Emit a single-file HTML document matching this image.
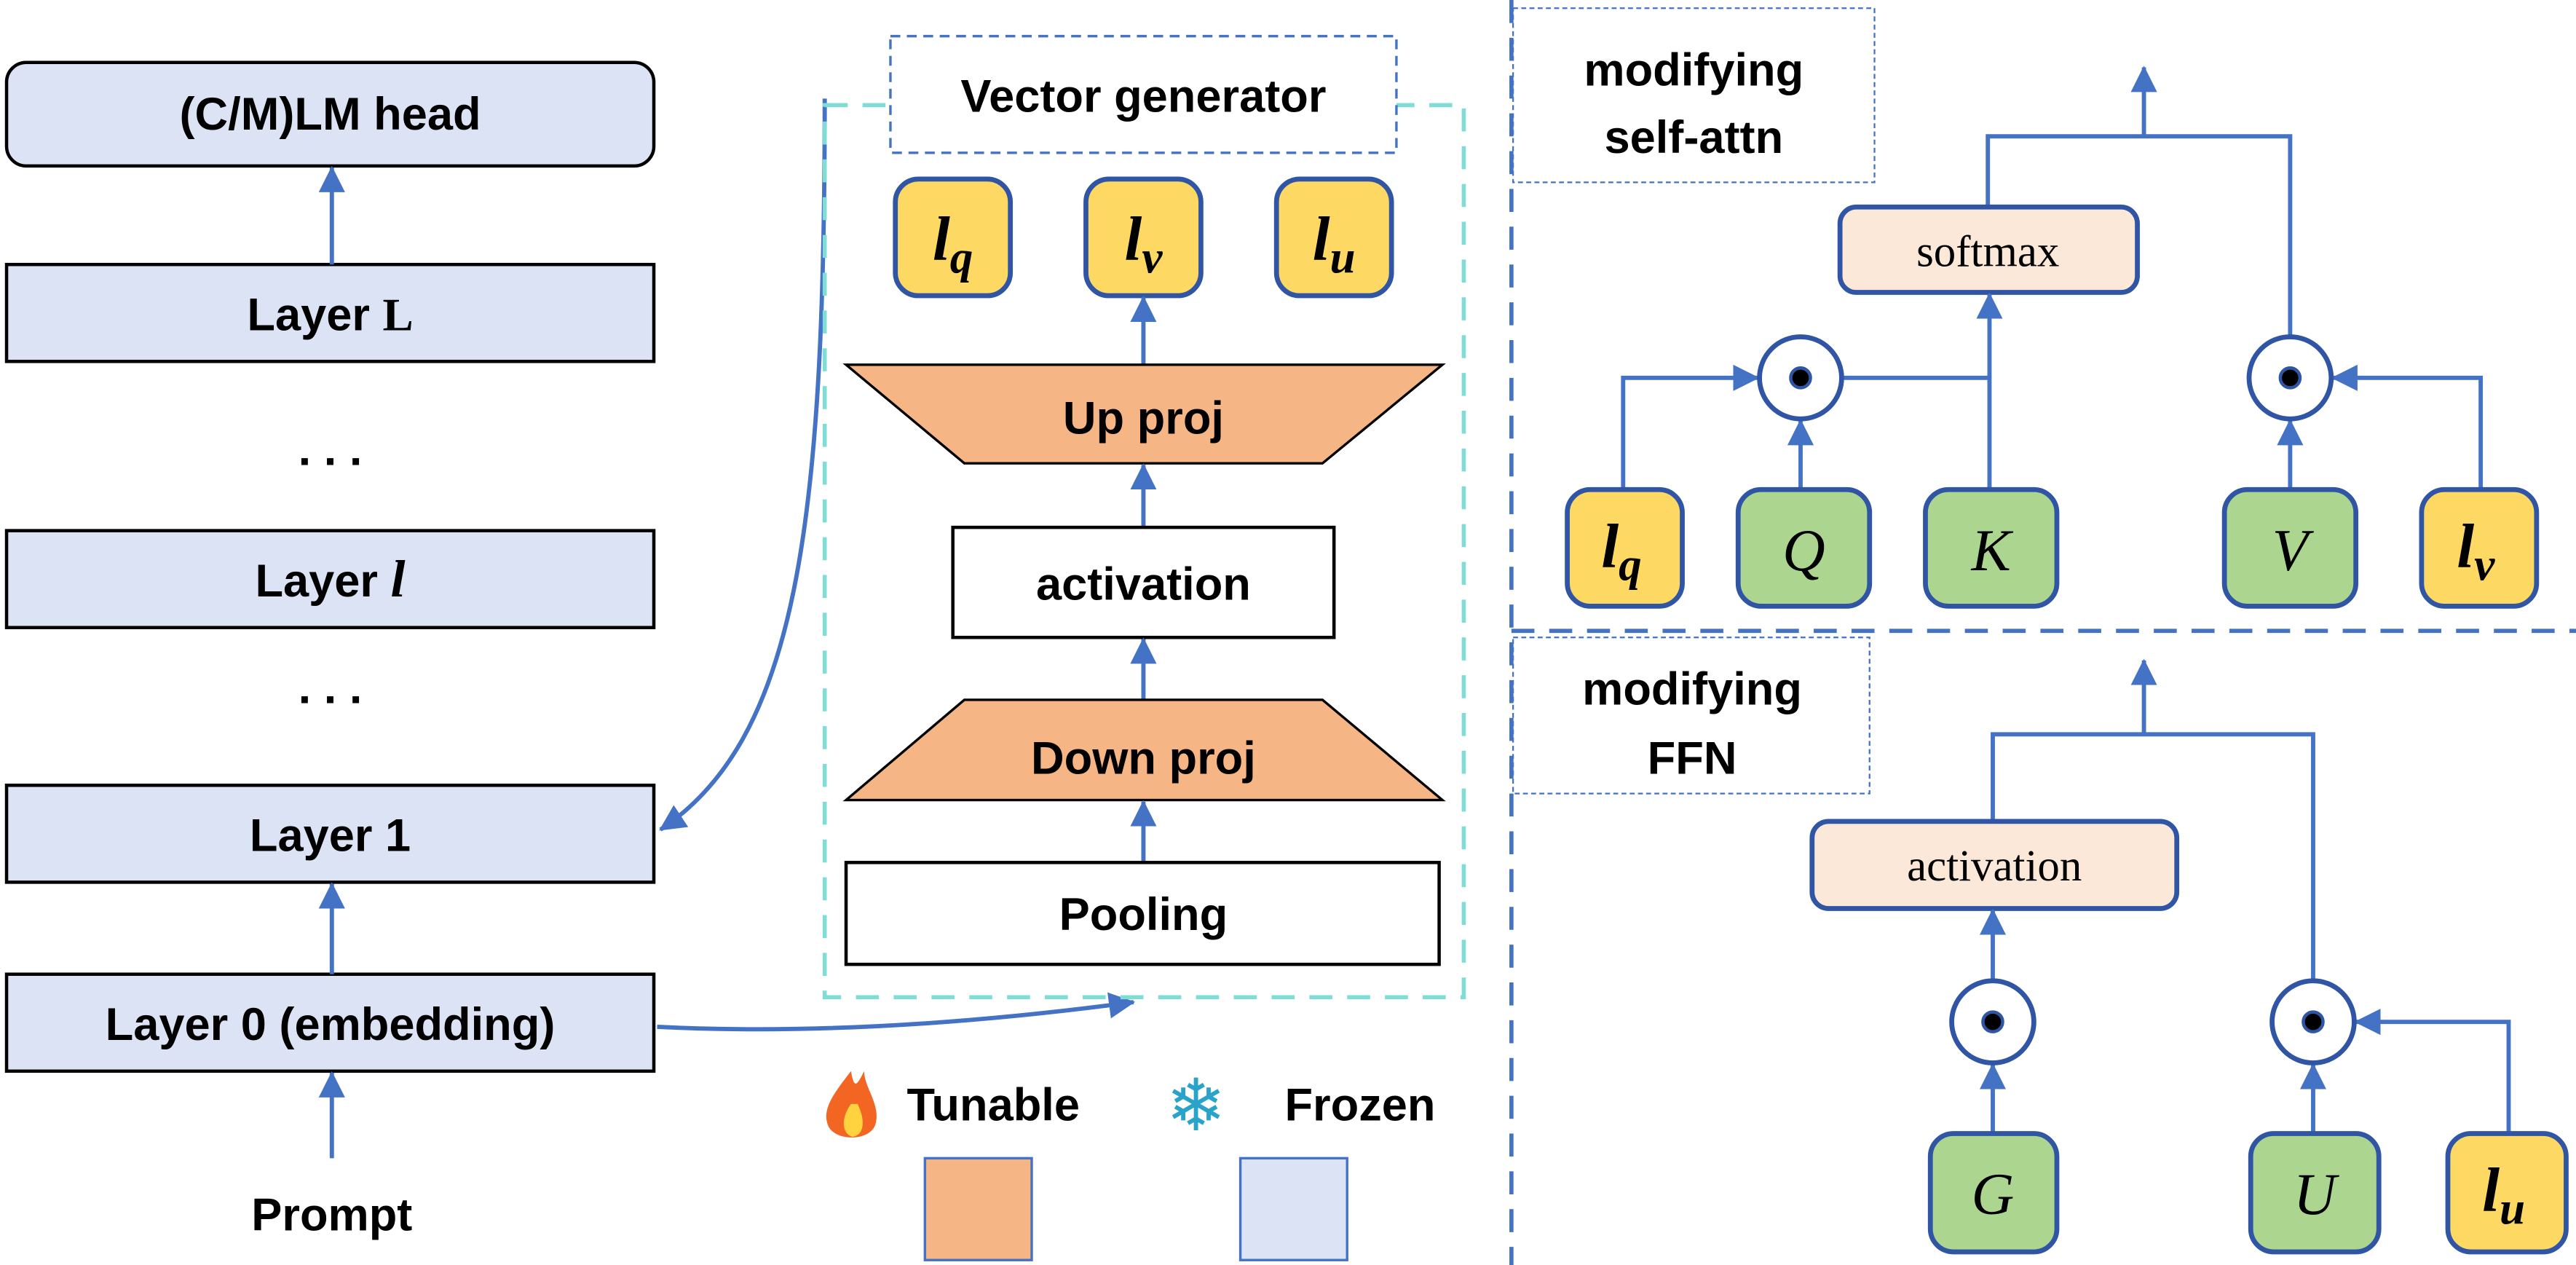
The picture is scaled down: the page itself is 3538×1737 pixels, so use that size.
<!DOCTYPE html>
<html><head><meta charset="utf-8"><style>
html,body{margin:0;padding:0;background:#fff;}
svg{display:block;}
.t{font-family:"Liberation Sans Narrow","Liberation Sans",sans-serif;font-weight:bold;fill:#000;}
.m{font-family:"Liberation Serif","DejaVu Serif",serif;font-style:italic;font-weight:bold;fill:#000;}
.s{font-family:"Liberation Serif",serif;fill:#000;}
.ln{stroke:#4472c4;stroke-width:2.6;fill:none;}
</style></head><body>
<svg width="3538" height="1737" viewBox="0 0 1568 770" preserveAspectRatio="none" xmlns="http://www.w3.org/2000/svg">
<defs>
<marker id="a" markerUnits="userSpaceOnUse" markerWidth="16" markerHeight="16" refX="15" refY="8" orient="auto">
<path d="M0,0 L16,8 L0,16 z" fill="#4472c4"/></marker>
</defs>
<!-- Left column -->
<rect x="4" y="38" width="394" height="63" rx="12" fill="#dce3f4" stroke="#000" stroke-width="2"/>
<text class="t" x="201" y="79" font-size="28" text-anchor="middle">(C/M)LM head</text>
<rect x="4" y="161" width="394" height="59" fill="#dce3f4" stroke="#000" stroke-width="2"/>
<text class="t" x="201" y="201" font-size="28" text-anchor="middle">Layer <tspan class="s" font-weight="bold">L</tspan></text>
<text class="t" x="201" y="283" font-size="28" text-anchor="middle">. . .</text>
<rect x="4" y="323" width="394" height="59" fill="#dce3f4" stroke="#000" stroke-width="2"/>
<text class="t" x="201" y="363" font-size="28" text-anchor="middle">Layer <tspan class="m" font-size="32">l</tspan></text>
<text class="t" x="201" y="428" font-size="28" text-anchor="middle">. . .</text>
<rect x="4" y="478" width="394" height="59" fill="#dce3f4" stroke="#000" stroke-width="2"/>
<text class="t" x="201" y="518" font-size="28" text-anchor="middle">Layer 1</text>
<rect x="4" y="593" width="394" height="59" fill="#dce3f4" stroke="#000" stroke-width="2"/>
<text class="t" x="201" y="633" font-size="28" text-anchor="middle">Layer 0 (embedding)</text>
<text class="t" x="202" y="749" font-size="28" text-anchor="middle">Prompt</text>
<line class="ln" x1="202" y1="161" x2="202" y2="102" marker-end="url(#a)"/>
<line class="ln" x1="202" y1="593" x2="202" y2="538" marker-end="url(#a)"/>
<line class="ln" x1="202" y1="705" x2="202" y2="653" marker-end="url(#a)"/>
<path class="ln" d="M502,60 C502,320 485,450 402,505" marker-end="url(#a)"/>
<path class="ln" d="M400,625 C500,630 600,622 690,610" marker-end="url(#a)"/>
<!-- Vector generator -->
<rect x="502" y="64" width="389" height="543" fill="none" stroke="#80ddd6" stroke-width="2.5" stroke-dasharray="14,9"/>
<rect x="542" y="22" width="308" height="71" fill="#fff" stroke="#4472c4" stroke-width="1.5" stroke-dasharray="6,4"/>
<text class="t" x="696" y="68" font-size="28" text-anchor="middle">Vector generator</text>
<rect x="545" y="109" width="70" height="71" rx="14" fill="#fdd862" stroke="#2f55a4" stroke-width="3"/>
<text class="m" x="580" y="158" font-size="38" text-anchor="middle">l<tspan font-size="28" dy="8">q</tspan></text>
<rect x="661" y="109" width="70" height="71" rx="14" fill="#fdd862" stroke="#2f55a4" stroke-width="3"/>
<text class="m" x="696" y="158" font-size="38" text-anchor="middle">l<tspan font-size="28" dy="8">v</tspan></text>
<rect x="777" y="109" width="70" height="71" rx="14" fill="#fdd862" stroke="#2f55a4" stroke-width="3"/>
<text class="m" x="812" y="158" font-size="38" text-anchor="middle">l<tspan font-size="28" dy="8">u</tspan></text>
<line class="ln" x1="696" y1="222" x2="696" y2="181" marker-end="url(#a)"/>
<polygon points="515,222 878,222 805,282 587,282" fill="#f5b584" stroke="#000" stroke-width="1.5"/>
<text class="t" x="696" y="264" font-size="28" text-anchor="middle">Up proj</text>
<line class="ln" x1="696" y1="321" x2="696" y2="283" marker-end="url(#a)"/>
<rect x="580" y="321" width="232" height="67" fill="#fff" stroke="#000" stroke-width="2"/>
<text class="t" x="696" y="365" font-size="28" text-anchor="middle">activation</text>
<line class="ln" x1="696" y1="426" x2="696" y2="389" marker-end="url(#a)"/>
<polygon points="587,426 805,426 878,487 515,487" fill="#f5b584" stroke="#000" stroke-width="1.5"/>
<text class="t" x="696" y="471" font-size="28" text-anchor="middle">Down proj</text>
<line class="ln" x1="696" y1="525" x2="696" y2="488" marker-end="url(#a)"/>
<rect x="515" y="525" width="361" height="62" fill="#fff" stroke="#000" stroke-width="2"/>
<text class="t" x="696" y="566" font-size="28" text-anchor="middle">Pooling</text>
<!-- Legend -->
<path d="M518,652 C508,665 500,675 504,685 C508,695 530,695 533,684 C536,672 526,662 526,652 C522,660 520,664 518,652 z" fill="#f26522"/>
<path d="M518,672 C512,680 512,690 519,692 C526,691 527,682 522,672 z" fill="#ffd23f"/>
<text class="t" x="552" y="682" font-size="28">Tunable</text>
<text x="728" y="688" font-size="44" text-anchor="middle" fill="#29a3c9" font-family="DejaVu Sans,sans-serif">❄</text>
<text class="t" x="782" y="682" font-size="28">Frozen</text>
<rect x="563" y="705" width="65" height="62" fill="#f5b584" stroke="#4472c4" stroke-width="1.5"/>
<rect x="755" y="705" width="65" height="62" fill="#dce3f4" stroke="#4472c4" stroke-width="1.5"/>
<!-- Right dividers -->
<line x1="920" y1="0" x2="920" y2="770" stroke="#4472c4" stroke-width="2.5" stroke-dasharray="14,9"/>
<line x1="920" y1="384" x2="1568" y2="384" stroke="#4472c4" stroke-width="2.5" stroke-dasharray="14,9"/>
<!-- self-attn -->
<rect x="921" y="5" width="220" height="106" fill="none" stroke="#4472c4" stroke-width="1" stroke-dasharray="3,2"/>
<text class="t" x="1031" y="52" font-size="28" text-anchor="middle">modifying</text>
<text class="t" x="1031" y="93" font-size="28" text-anchor="middle">self-attn</text>
<line class="ln" x1="1305" y1="83" x2="1305" y2="41" marker-end="url(#a)"/>
<polyline class="ln" points="1210,126 1210,83 1394,83 1394,205"/>
<rect x="1120" y="126" width="181" height="52" rx="10" fill="#fce8d8" stroke="#2f55a4" stroke-width="3"/>
<text class="s" x="1210" y="162" font-size="27" text-anchor="middle">softmax</text>
<polyline class="ln" points="988,298 988,230 1070,230" marker-end="url(#a)"/>
<line class="ln" x1="1096" y1="298" x2="1096" y2="256" marker-end="url(#a)"/>
<line class="ln" x1="1121" y1="230" x2="1211" y2="230"/>
<line class="ln" x1="1211" y1="298" x2="1211" y2="179" marker-end="url(#a)"/>
<line class="ln" x1="1394" y1="298" x2="1394" y2="256" marker-end="url(#a)"/>
<polyline class="ln" points="1510,298 1510,230 1420,230" marker-end="url(#a)"/>
<circle cx="1096" cy="230" r="25" fill="#fff" stroke="#2f55a4" stroke-width="3"/><circle cx="1096" cy="230" r="6" fill="#000" stroke="#2f55a4" stroke-width="2"/>
<circle cx="1394" cy="230" r="25" fill="#fff" stroke="#2f55a4" stroke-width="3"/><circle cx="1394" cy="230" r="6" fill="#000" stroke="#2f55a4" stroke-width="2"/>
<rect x="954" y="298" width="70" height="71" rx="14" fill="#fdd862" stroke="#2f55a4" stroke-width="3"/>
<text class="m" x="987" y="345" font-size="38" text-anchor="middle">l<tspan font-size="28" dy="8">q</tspan></text>
<rect x="1058" y="298" width="80" height="71" rx="14" fill="#acd68f" stroke="#2f55a4" stroke-width="3"/>
<text class="s" font-style="italic" x="1098" y="347" font-size="36" text-anchor="middle">Q</text>
<rect x="1172" y="298" width="80" height="71" rx="14" fill="#acd68f" stroke="#2f55a4" stroke-width="3"/>
<text class="s" font-style="italic" x="1212" y="347" font-size="36" text-anchor="middle">K</text>
<rect x="1354" y="298" width="80" height="71" rx="14" fill="#acd68f" stroke="#2f55a4" stroke-width="3"/>
<text class="s" font-style="italic" x="1394" y="347" font-size="36" text-anchor="middle">V</text>
<rect x="1474" y="298" width="70" height="71" rx="14" fill="#fdd862" stroke="#2f55a4" stroke-width="3"/>
<text class="m" x="1507" y="345" font-size="38" text-anchor="middle">l<tspan font-size="28" dy="8">v</tspan></text>
<!-- FFN -->
<rect x="921" y="388" width="217" height="95" fill="none" stroke="#4472c4" stroke-width="1" stroke-dasharray="3,2"/>
<text class="t" x="1030" y="429" font-size="28" text-anchor="middle">modifying</text>
<text class="t" x="1030" y="471" font-size="28" text-anchor="middle">FFN</text>
<line class="ln" x1="1305" y1="447" x2="1305" y2="402" marker-end="url(#a)"/>
<polyline class="ln" points="1213,500 1213,447 1408,447 1408,597"/>
<rect x="1103" y="500" width="222" height="53" rx="10" fill="#fce8d8" stroke="#2f55a4" stroke-width="3"/>
<text class="s" x="1214" y="536" font-size="27" text-anchor="middle">activation</text>
<line class="ln" x1="1213" y1="597" x2="1213" y2="554" marker-end="url(#a)"/>
<line class="ln" x1="1213" y1="690" x2="1213" y2="648" marker-end="url(#a)"/>
<line class="ln" x1="1408" y1="690" x2="1408" y2="648" marker-end="url(#a)"/>
<polyline class="ln" points="1527,690 1527,622 1434,622" marker-end="url(#a)"/>
<circle cx="1213" cy="622" r="25" fill="#fff" stroke="#2f55a4" stroke-width="3"/><circle cx="1213" cy="622" r="6" fill="#000" stroke="#2f55a4" stroke-width="2"/>
<circle cx="1408" cy="622" r="25" fill="#fff" stroke="#2f55a4" stroke-width="3"/><circle cx="1408" cy="622" r="6" fill="#000" stroke="#2f55a4" stroke-width="2"/>
<rect x="1175" y="690" width="77" height="72" rx="14" fill="#acd68f" stroke="#2f55a4" stroke-width="3"/>
<text class="s" font-style="italic" x="1213" y="739" font-size="36" text-anchor="middle">G</text>
<rect x="1370" y="690" width="78" height="72" rx="14" fill="#acd68f" stroke="#2f55a4" stroke-width="3"/>
<text class="s" font-style="italic" x="1409" y="739" font-size="36" text-anchor="middle">U</text>
<rect x="1490" y="690" width="72" height="72" rx="14" fill="#fdd862" stroke="#2f55a4" stroke-width="3"/>
<text class="m" x="1524" y="737" font-size="38" text-anchor="middle">l<tspan font-size="28" dy="8">u</tspan></text>
</svg>
</body></html>
